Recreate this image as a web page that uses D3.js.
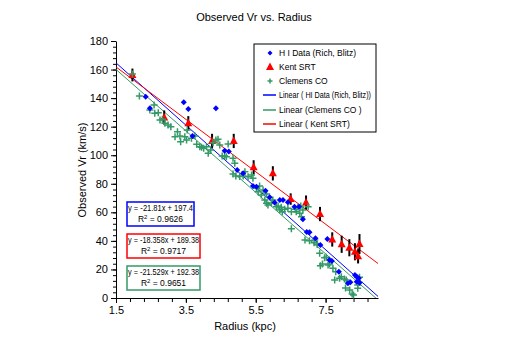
<!DOCTYPE html>
<html>
<head>
<meta charset="utf-8">
<script src="https://cdn.jsdelivr.net/npm/d3@7"></script>
<style>
  body { margin: 0; background: #fff; }
  text { font-family: Arial, "Liberation Sans", sans-serif; fill: #000; }
</style>
</head>
<body>
<svg id="chart"></svg>
<script>
// HI Data (Rich, Blitz)
const hiR = [2.35, 2.47, 3.44, 3.57, 4.36, 3.69, 4.61, 4.73, 4.97, 5.14, 5.42, 5.52, 5.78, 5.90, 6.04, 6.19, 6.28, 6.42,
  6.61, 6.74, 6.85, 6.96, 7.04, 7.21, 7.35, 7.55, 7.61, 7.68, 7.88, 8.14, 8.21, 8.34, 8.39, 8.45, 8.39, 8.47];
const hiV = [141.0, 132.9, 137.1, 132.4, 132.9, 113.5, 103.2, 102.6, 89.7, 87.3, 78.4, 78.0, 75.2, 70.5, 66.8, 68.6, 68.6, 67.0,
  63.9, 63.9, 55.1, 46.2, 46.0, 41.8, 37.1, 41.3, 26.6, 25.9, 18.4, 10.3, 11.0, 16.1, 14.9, 13.8, 11.4, 10.7];

// Kent SRT (with error bars)
const kentR = [1.97, 2.88, 3.57, 4.25, 4.87, 5.44, 5.99, 6.50, 6.94, 7.34, 7.69, 7.96, 8.18, 8.34, 8.47, 8.43];
const kentV = [156.2, 126.4, 122.4, 110.0, 110.0, 91.5, 87.3, 69.3, 66.8, 58.8, 41.0, 37.6, 35.2, 32.4, 37.8, 29.2];
const kentErr = [4.5, 5, 5, 5, 5, 5, 5, 4, 5, 5, 5, 6, 6, 6, 7, 5];

// Clemens CO
const coR = [1.97, 2.17, 2.47, 2.59, 2.61, 2.71, 2.76, 2.83, 2.90, 2.99, 3.07, 3.19, 3.26, 3.33, 3.35, 3.47, 3.54, 3.52,
  3.66, 3.76, 3.81, 3.90, 3.95, 4.01, 4.09, 4.14, 4.21, 4.28, 4.36, 4.42, 4.47, 4.54, 4.61, 4.66, 4.71, 4.85, 4.90, 4.85,
  4.93, 5.04, 5.14, 5.19, 5.28, 5.38, 5.42, 5.52, 5.57, 5.61, 5.66, 5.71, 5.76, 5.81, 5.81, 5.85, 5.95, 5.99, 6.09, 6.14,
  6.19, 6.23, 6.26, 6.33, 6.42, 6.52, 6.63, 6.66, 6.71, 6.76, 6.79, 6.85, 6.81, 7.00, 6.52, 6.91, 7.04, 7.17, 7.19, 7.26,
  7.33, 7.47, 7.52, 7.35, 7.41, 7.57, 7.61, 7.71, 7.79, 7.95, 7.90, 7.76, 8.04, 8.09, 8.07, 8.19, 8.26, 8.30, 8.42, 8.45,
  8.47, 8.42];
const coV = [156.9, 141.5, 131.7, 135.2, 129.4, 129.8, 124.7, 125.2, 122.4, 121.2, 120.0, 113.0, 116.5, 113.5, 109.5, 113.0, 117.7, 110.7,
  111.9, 113.5, 107.7, 106.0, 105.6, 104.9, 106.0, 101.3, 103.7, 108.8, 110.7, 111.2, 107.2, 99.5, 99.5, 99.0, 107.9, 97.8, 94.3, 86.8,
  85.4, 85.1, 85.4, 88.5, 85.0, 86.1, 83.8, 76.8, 74.5, 78.4, 72.1, 75.6, 68.6, 72.8, 66.3, 65.1, 66.5, 68.6, 63.9, 64.4,
  61.6, 63.5, 60.4, 62.1, 62.8, 60.4, 62.1, 60.4, 63.5, 59.3, 64.4, 61.6, 56.9, 63.9, 48.5, 40.6, 40.1, 38.7, 40.6, 37.5,
  31.3, 28.2, 28.5, 22.6, 23.8, 23.1, 23.8, 20.8, 18.4, 14.9, 13.8, 12.6, 13.3, 12.6, 7.0, 5.6, 2.8, 2.1, 6.8, 11.4,
  14.5, 9.1];

// linear trendlines: HI, Clemens, Kent
const fitNames = ["Linear ( HI Data (Rich, Blitz))", "Linear (Clemens CO )", "Linear ( Kent SRT)"];
const fitSlope = [-21.81, -21.529, -18.358];
const fitIcpt = [197.4, 192.38, 189.38];
const fitR2 = ["0.9626", "0.9651", "0.9717"];
const fitColor = ["#0000ff", "#339966", "#ff0000"];

const xTicks = [1.5, 3.5, 5.5, 7.5];
const yTicks = [0, 20, 40, 60, 80, 100, 120, 140, 160, 180];

const width = 508, height = 347;
const plot = { left: 116, right: 378, top: 41, bottom: 298 };

let svg = d3.select("#chart").attr("width", width).attr("height", height);

let x = d3.scaleLinear().domain([1.5, 9]).range([plot.left, plot.right]);
let y = d3.scaleLinear().domain([0, 180]).range([plot.bottom, plot.top]);

//squeeze a text into a width if it is too long
function fit(sel, maxW) {
  sel.each(function () {
    if (this.getComputedTextLength() > maxW) {
      d3.select(this).attr("textLength", maxW).attr("lengthAdjust", "spacingAndGlyphs");
    }
  });
}

//title
svg.append("text").attr("x", 254).attr("y", 21).attr("text-anchor", "middle")
  .style("font-size", "11px").text("Observed Vr vs. Radius");

//axes
svg.append("g").attr("transform", "translate(" + plot.left + ",0)")
  .call(d3.axisLeft(y).tickValues(yTicks).tickSize(5).tickSizeOuter(0).tickPadding(3));
svg.append("g").attr("transform", "translate(" + plot.left + ",0)")
  .call(d3.axisLeft(y).tickValues(d3.range(0, 181, 4)).tickSize(3).tickFormat(""))
  .select(".domain").remove();
svg.append("g").attr("transform", "translate(0," + plot.bottom + ")")
  .call(d3.axisBottom(x).tickValues(xTicks).tickSize(5).tickSizeOuter(0).tickPadding(3).tickFormat(d3.format(".1f")));
svg.append("g").attr("transform", "translate(0," + plot.bottom + ")")
  .call(d3.axisBottom(x).tickValues(d3.range(0, 19).map(i => 1.5 + i * 0.4)).tickSize(4).tickFormat(""))
  .select(".domain").remove();
svg.selectAll(".tick text").style("font-size", "11px").style("font-family", "Arial, 'Liberation Sans', sans-serif");
svg.selectAll(".domain, .tick line").attr("stroke", "#000");

//axis titles
svg.append("text").attr("transform", "translate(86,170) rotate(-90)").attr("text-anchor", "middle")
  .style("font-size", "11px").text("Observed Vr (km/s)");
svg.append("text").attr("x", 245).attr("y", 330).attr("text-anchor", "middle")
  .style("font-size", "11px").text("Radius (kpc)");

//clip for trendlines
svg.append("clipPath").attr("id", "clip").append("rect")
  .attr("x", plot.left).attr("y", plot.top)
  .attr("width", plot.right - plot.left).attr("height", plot.bottom - plot.top);

let line = d3.line().x(d => x(d[0])).y(d => y(d[1]));
let fits = svg.append("g").attr("clip-path", "url(#clip)");
fitSlope.forEach(function (m, i) {
  fits.append("path")
    .datum(x.domain().map(r => [r, m * r + fitIcpt[i]]))
    .attr("fill", "none").attr("stroke", fitColor[i]).attr("stroke-width", 1)
    .attr("d", line);
});

//markers
const diamond = "M0,-3L3,0L0,3L-3,0Z";
const triangle = "M0,-4.5L4,3L-4,3Z";
const plus = "M-3.5,0H3.5M0,-3.5V3.5";

let kent = kentR.map((r, i) => ({ r: r, v: kentV[i], e: kentErr[i] }));
let kg = svg.append("g");
kg.selectAll("line").data(kent).enter().append("line")
  .attr("x1", d => x(d.r)).attr("x2", d => x(d.r))
  .attr("y1", d => y(d.v - d.e)).attr("y2", d => y(d.v + d.e))
  .attr("stroke", "#000").attr("stroke-width", 2);
kg.selectAll("path").data(kent).enter().append("path")
  .attr("d", triangle).attr("fill", "#ff0000")
  .attr("transform", d => "translate(" + x(d.r) + "," + y(d.v) + ")");

svg.append("g").selectAll("path").data(coR.map((r, i) => [r, coV[i]])).enter().append("path")
  .attr("d", plus).attr("fill", "none").attr("stroke", "#339966").attr("stroke-width", 1.5)
  .attr("transform", d => "translate(" + x(d[0]) + "," + y(d[1]) + ")");

svg.append("g").selectAll("path").data(hiR.map((r, i) => [r, hiV[i]])).enter().append("path")
  .attr("d", diamond).attr("fill", "#0000ff")
  .attr("transform", d => "translate(" + x(d[0]) + "," + y(d[1]) + ")");

//legend
let lg = svg.append("g").attr("transform", "translate(254,44)");
lg.append("rect").attr("x", 0).attr("y", 0).attr("width", 122).attr("height", 88)
  .attr("fill", "#fff").attr("stroke", "#000").attr("stroke-width", 1);
let legendItems = [
  { label: "H I Data (Rich, Blitz)", type: "diamond", color: "#0000ff" },
  { label: "Kent SRT", type: "triangle", color: "#ff0000" },
  { label: "Clemens CO", type: "plus", color: "#339966" },
  { label: fitNames[0], type: "line", color: fitColor[0] },
  { label: fitNames[1], type: "line", color: fitColor[1] },
  { label: fitNames[2], type: "line", color: fitColor[2] }
];
let rowY = [9, 23, 37, 51, 66, 80];
legendItems.forEach(function (d, i) {
  let row = lg.append("g").attr("transform", "translate(0," + rowY[i] + ")");
  if (d.type == "line") {
    row.append("line").attr("x1", 9).attr("x2", 22).attr("y1", 0).attr("y2", 0)
      .attr("stroke", d.color).attr("stroke-width", 1.5);
  } else if (d.type == "plus") {
    row.append("path").attr("d", "M-2.5,0H2.5M0,-2.5V2.5").attr("stroke", d.color).attr("stroke-width", 1.5)
      .attr("transform", "translate(16,0)");
  } else {
    row.append("path").attr("d", d.type == "diamond" ? "M0,-2.5L2.5,0L0,2.5L-2.5,0Z" : triangle)
      .attr("fill", d.color).attr("transform", "translate(16,0)");
  }
  row.append("text").attr("x", 25).attr("y", 3).style("font-size", "8.5px").text(d.label)
    .call(fit, 92);
});

//equation boxes: HI, Kent, Clemens
let eqOrder = [0, 2, 1];
let eqTop = [202, 234, 266];
let eqW = [67, 73, 73];
eqOrder.forEach(function (k, i) {
  let g = svg.append("g").attr("transform", "translate(127," + eqTop[i] + ")");
  g.append("rect").attr("width", eqW[i]).attr("height", 24)
    .attr("fill", "#fff").attr("stroke", fitColor[k]).attr("stroke-width", 1.5);
  g.append("text").attr("x", 1).attr("y", 9).style("font-size", "8.5px")
    .text("y = " + fitSlope[k] + "x + " + fitIcpt[k])
    .call(fit, eqW[i] - 2);
  let t = g.append("text").attr("x", eqW[i] / 2).attr("y", 20).attr("text-anchor", "middle").style("font-size", "8.5px");
  t.append("tspan").text("R");
  t.append("tspan").attr("dy", -3).style("font-size", "6px").text("2");
  t.append("tspan").attr("dy", 3).text(" = " + fitR2[k]);
});
</script>
</body>
</html>
